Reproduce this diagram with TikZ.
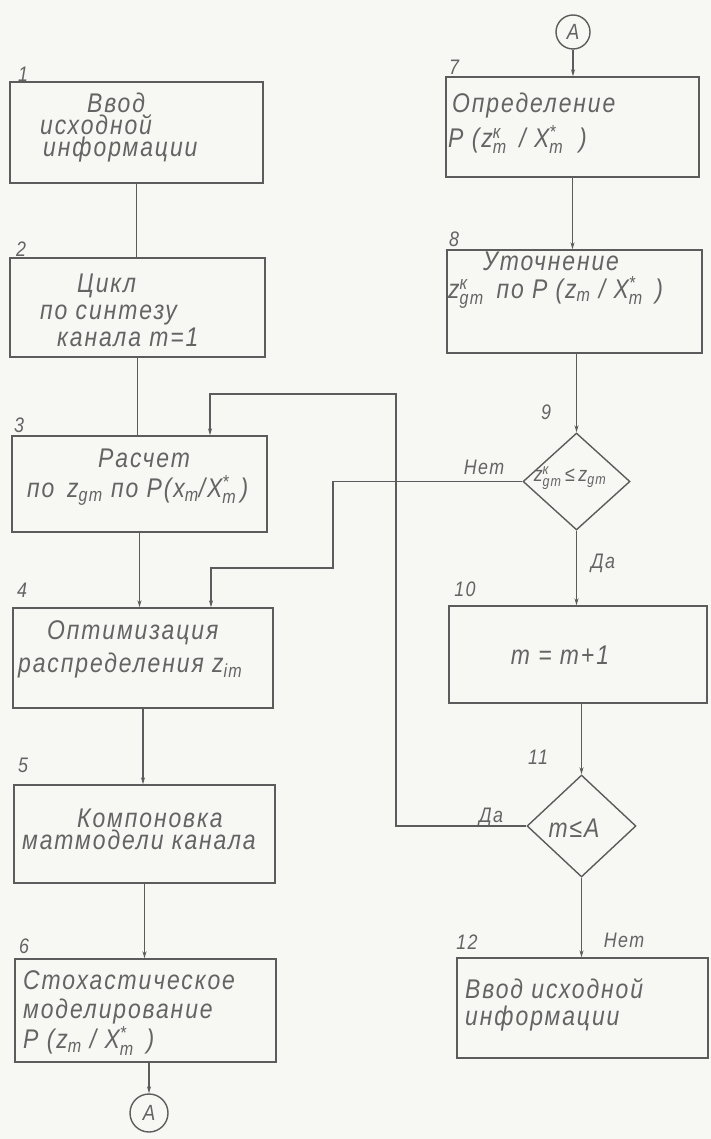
\documentclass[tikz,border=0pt]{standalone}
\usepackage{fontspec}
\usepackage{amsmath}
\setmainfont{Liberation Sans}
\newfontfamily\draftfont[LetterSpace=7,FakeStretch=0.85]{Liberation Sans}
\usetikzlibrary{arrows.meta,shapes.geometric}

\definecolor{ink}{RGB}{92,92,92}
\definecolor{pen}{RGB}{100,100,100}
\definecolor{paper}{RGB}{247,247,244}

% index helpers: base with subscript / with super- and subscript
\newcommand{\lsub}[2]{#1$_{\text{#2}}$}
\newcommand{\lss}[3]{#1$^{\text{#2}}_{\text{#3}}$}

\tikzset{
  blk/.style 2 args={draw=ink, line width=1.4pt, minimum width=#1, minimum height=#2, inner sep=0pt},
  dec/.style 2 args={diamond, draw=ink, line width=1.4pt, minimum width=#1, minimum height=#2, inner sep=0pt},
  con/.style={circle, draw=ink, line width=1.4pt, minimum size=38pt, inner sep=0pt, text=pen,
    font=\fontsize{22}{24}\selectfont\draftfont\itshape},
  txt/.style={text=pen, font=\fontsize{27}{29}\selectfont\draftfont\itshape, align=left, inner sep=0pt, anchor=west},
  num/.style={text=pen, font=\fontsize{21}{22}\selectfont\draftfont\itshape, inner sep=0pt},
  ln/.style={draw=ink, line width=1.4pt},
  arr/.style={ln, -{Stealth[length=7pt,width=4pt]}}
}

\begin{document}
\begin{tikzpicture}[x=1pt, y=-1pt]

% paper
\fill[paper] (0,0) rectangle (711,1139);
\useasboundingbox (0,0) rectangle (711,1139);

% left column
\node[blk={253pt}{101pt}] (b1) at (136.5,132.5) {};
\node[blk={255pt}{99pt}]  (b2) at (137.5,307.5) {};
\node[blk={255pt}{96pt}]  (b3) at (139.5,484) {};
\node[blk={260pt}{100pt}] (b4) at (143,658) {};
\node[blk={261pt}{98pt}]  (b5) at (144.5,834) {};
\node[blk={261pt}{103pt}] (b6) at (145.5,1010.5) {};
\node[con] (cA1) at (149,1113) {A};

% right column
\node[con, minimum size=34pt] (cA2) at (573,32) {A};
\node[blk={253pt}{100pt}] (b7) at (572.5,127) {};
\node[blk={255pt}{103pt}] (b8) at (574.5,301.5) {};
\node[dec={107pt}{97pt}]  (d9) at (576.5,481.5) {};
\node[blk={258pt}{97pt}]  (b10) at (578,654.5) {};
\node[dec={109pt}{102pt}] (d11) at (581.5,826) {};
\node[blk={251pt}{100pt}] (b12) at (582.5,1008) {};

% texts
\node[txt] (t1) at (40,128) {\hspace*{47pt}Ввод\\[-7pt]исходной\\[-7pt]\hspace*{3pt}информации};
\node[txt] (t2) at (40,310) {\hspace*{37pt}Цикл\\[-2pt]по синтезу\\[-2pt]\hspace*{17pt}канала m=1};
\node[txt] (t3) at (27,477) {\hspace*{71pt}Расчет\\[1pt]по \,\lsub{z}{gm} по P(\lsub{x}{m}/\lss{X}{*}{m}\,)};
\node[txt] (t4) at (18,649) {\hspace*{29pt}Оптимизация\\[4pt]распределения \lsub{z}{im}};
\node[txt] (t5) at (22,829) {\hspace*{55pt}Компоновка\\[-7pt]матмодели канала};
\node[txt] (t6) at (23,1013) {Стохастическое\\моделирование\\[1pt]P (\lsub{z}{m} / \lss{X}{*}{m}\, )};
\node[txt] (t7) at (448,123) {\hspace*{4pt}Определение\\[6pt]P (\lss{z}{к}{m}\, / \lss{X}{*}{m}\; )};
\node[txt] (t8) at (448,280) {\hspace*{35pt}Уточнение\\[-1pt]\lss{z}{к}{gm} \,по P (\lsub{z}{m} / \lss{X}{*}{m}\, )};
\node[txt, anchor=center] (t10) at (560,655) {m = m+1};
\node[txt] (t12) at (465,1005) {Ввод исходной\\[-2pt]информации};
\node[txt, anchor=center, font=\fontsize{21}{22}\selectfont\draftfont\itshape] (td9) at (570,478) {\lss{z}{к}{gm}\,≤\,\lsub{z}{gm}};
\node[txt, anchor=center] (td11) at (574,828) {m≤A};

% block numbers
\node[num] (n1) at (23,74) {1};
\node[num] (n2) at (21,249) {2};
\node[num] (n3) at (19,425) {3};
\node[num] (n4) at (22,590) {4};
\node[num] (n5) at (23,765) {5};
\node[num] (n6) at (24,946) {6};
\node[num] (n7) at (454,67) {7};
\node[num] (n8) at (454,239) {8};
\node[num] (n9) at (546,412) {9};
\node[num] (n10) at (465,589) {10};
\node[num] (n11) at (538,757) {11};
\node[num] (n12) at (467,942) {12};

% branch labels
\node[num] (no9) at (484,467) {Нет};
\node[num] (yes9) at (603,563) {Да};
\node[num] (yes11) at (491,817) {Да};
\node[num] (no11) at (624,940) {Нет};

% main flow, left
\draw[ln]  (b1.south) -- (b1.south |- b2.north);
\draw[ln]  (b2.south) -- (b2.south |- b3.north);
\draw[arr] (b3.south) -- (b3.south |- b4.north);
\draw[arr] (b4.south) -- (b4.south |- b5.north);
\draw[arr] (b5.south) -- (b5.south |- b6.north);
\draw[arr] (cA1.north |- b6.south) -- (cA1.north);

% main flow, right
\draw[arr] (cA2) -- (cA2 |- b7.north);
\draw[arr] (b7.south) -- (b7.south |- b8.north);
\draw[arr] (d9.north |- b8.south) -- (d9.north);
\draw[arr] (d9.south) -- (d9.south |- b10.north);
\draw[arr] (d11.north |- b10.south) -- (d11.north);
\draw[arr] (d11.south) -- (d11.south |- b12.north);

% loop back: Да from 11 to 3
\coordinate (yesR) at (396,394);
\coordinate (yesL) at (210,394);
\draw[arr] (d11.west) -| (yesR) -- (yesL) -- (yesL |- b3.north);

% loop back: Нет from 9 to 4
\coordinate (noR) at (333,568);
\coordinate (noL) at (211,568);
\draw[arr] (d9.west) -| (noR) -- (noL) -- (noL |- b4.north);

\end{tikzpicture}
\end{document}
